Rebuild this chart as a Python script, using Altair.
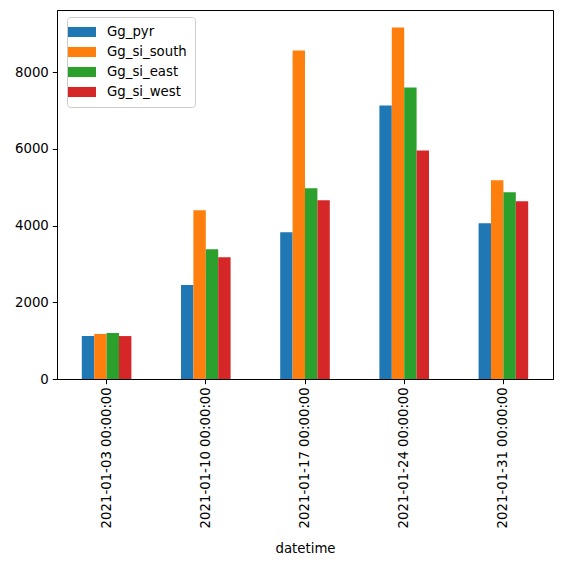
import altair as alt
import pandas as pd

# Weekly totals per sensor
dates = [
    "2021-01-03 00:00:00",
    "2021-01-10 00:00:00",
    "2021-01-17 00:00:00",
    "2021-01-24 00:00:00",
    "2021-01-31 00:00:00",
]
series = ["Gg_pyr", "Gg_si_south", "Gg_si_east", "Gg_si_west"]
gg_pyr = [1120, 2450, 3830, 7135, 4060]
gg_si_south = [1175, 4400, 8565, 9165, 5180]
gg_si_east = [1200, 3385, 4975, 7600, 4870]
gg_si_west = [1120, 3175, 4660, 5960, 4635]
colors = ["#1f77b4", "#ff7f0e", "#2ca02c", "#d62728"]

values = [gg_pyr, gg_si_south, gg_si_east, gg_si_west]
rows = []
for name, vals in zip(series, values):
    for d, v in zip(dates, vals):
        rows.append({"datetime": d, "series": name, "value": v})
df = pd.DataFrame(rows)

ymax = max(max(v) for v in values) * 1.05
FONT = "DejaVu Sans"

chart = (
    alt.Chart(df)
    .mark_bar()
    .encode(
        x=alt.X(
            "datetime:N",
            sort=dates,
            title="datetime",
            scale=alt.Scale(paddingInner=0.5, paddingOuter=0.25),
            axis=alt.Axis(
                labelAngle=-90,
                labelFontSize=13.3,
                titleFontSize=13.3,
                titleFontWeight="normal",
                titlePadding=14,
                tickSize=4.7,
                labelPadding=3,
                domainColor="black",
                tickColor="black",
                labelColor="black",
                titleColor="black",
            ),
        ),
        xOffset=alt.XOffset(
            "series:N", sort=series, scale=alt.Scale(paddingInner=0, paddingOuter=0)
        ),
        y=alt.Y(
            "value:Q",
            title=None,
            scale=alt.Scale(domain=[0, ymax], nice=False, zero=True),
            axis=alt.Axis(
                values=[0, 2000, 4000, 6000, 8000],
                format="d",
                grid=False,
                labelFontSize=13.3,
                tickSize=4.7,
                labelPadding=4,
                domainColor="black",
                tickColor="black",
                labelColor="black",
            ),
        ),
        color=alt.Color(
            "series:N",
            sort=series,
            scale=alt.Scale(domain=series, range=colors),
            legend=alt.Legend(
                title=None,
                orient="none",
                legendX=10,
                legendY=7,
                symbolType="M-2,-0.72H2V0.72H-2Z",
                symbolSize=196,
                symbolStrokeWidth=0,
                symbolOpacity=1,
                labelFontSize=13.3,
                labelColor="black",
                labelOffset=18,
                rowPadding=6,
                padding=8,
                strokeColor="#cccccc",
                fillColor="white",
                cornerRadius=3,
            ),
        ),
    )
    .properties(width=496, height=369)
    .configure(font=FONT, padding={"left": 57, "top": 10, "right": 8, "bottom": 190}, autosize="none")
    .configure_view(stroke="black", strokeWidth=1)
)

chart.save("out.html", embed_options={"renderer": "svg", "actions": False})
